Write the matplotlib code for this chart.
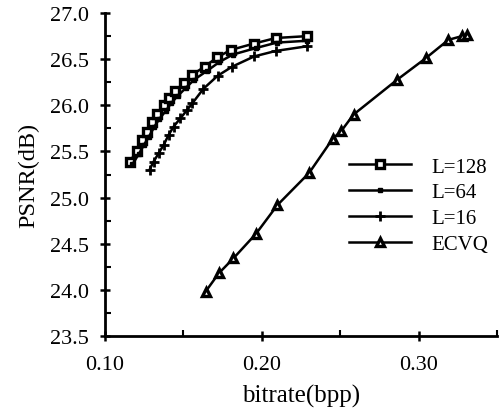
import matplotlib
matplotlib.use("Agg")
import matplotlib.pyplot as plt
from matplotlib.ticker import MultipleLocator

plt.rcParams['font.family'] = ['Liberation Serif', 'DejaVu Serif']

# L=128
l128_x = [0.1160, 0.1203, 0.1235, 0.1267, 0.1299, 0.1331, 0.1374, 0.1406, 0.1449,
          0.1502, 0.1556, 0.1635, 0.1716, 0.1801, 0.1951, 0.2090, 0.2288]
l128_y = [25.39, 25.51, 25.62, 25.71, 25.82, 25.91, 26.00, 26.08, 26.16,
          26.24, 26.33, 26.42, 26.52, 26.60, 26.67, 26.73, 26.75]

# L=64
l64_x = [0.1175, 0.1215, 0.1248, 0.1280, 0.1312, 0.1345, 0.1388, 0.1420, 0.1463,
         0.1516, 0.1570, 0.1648, 0.1730, 0.1815, 0.1960, 0.2095, 0.2288]
l64_y = [25.36, 25.47, 25.57, 25.66, 25.76, 25.85, 25.94, 26.02, 26.10,
         26.19, 26.28, 26.37, 26.47, 26.55, 26.62, 26.68, 26.70]

# L=16
l16_x = [0.1284, 0.1310, 0.1342, 0.1374, 0.1406, 0.1438, 0.1481, 0.1524, 0.1556,
         0.1628, 0.1718, 0.1812, 0.1951, 0.2090, 0.2288]
l16_y = [25.30, 25.39, 25.48, 25.57, 25.68, 25.77, 25.86, 25.95, 26.02,
         26.18, 26.32, 26.42, 26.53, 26.59, 26.64]

# ECVQ
ecvq_x = [0.1641, 0.1726, 0.1818, 0.1964, 0.2100, 0.2303, 0.2453, 0.2506, 0.2585,
          0.2865, 0.3045, 0.3190, 0.3276, 0.3308]
ecvq_y = [23.98, 24.18, 24.34, 24.61, 24.92, 25.27, 25.64, 25.72, 25.90,
          26.28, 26.51, 26.71, 26.75, 26.76]

fig = plt.figure(figsize=(4.99, 4.14), dpi=100)
ax = fig.add_axes([0.2104, 0.186, 0.7856, 0.780])

ax.plot(l128_x, l128_y, color='black', linewidth=1.8, marker='s', markersize=6,
        markerfacecolor='white', markeredgecolor='black', markeredgewidth=2.4, label='L=128')
ax.plot(l64_x, l64_y, color='black', linewidth=1.8, marker='s', markersize=3,
        markerfacecolor='black', markeredgecolor='black', label='L=64')
ax.plot(l16_x, l16_y, color='black', linewidth=1.8, marker='+', markersize=7,
        markeredgewidth=2, label='L=16')
ax.plot(ecvq_x, ecvq_y, color='black', linewidth=1.8, marker='^', markersize=6,
        markerfacecolor='white', markeredgecolor='black', markeredgewidth=2.4, label='ECVQ')

ax.set_xlim(0.10, 0.35)
ax.set_ylim(23.5, 27.0)
ax.xaxis.set_major_locator(MultipleLocator(0.10))
ax.xaxis.set_minor_locator(MultipleLocator(0.05))
ax.yaxis.set_major_locator(MultipleLocator(0.5))
ax.yaxis.set_minor_locator(MultipleLocator(0.25))
ax.xaxis.set_major_formatter(plt.FormatStrFormatter('%.2f'))
ax.yaxis.set_major_formatter(plt.FormatStrFormatter('%.1f'))

ax.spines['top'].set_visible(False)
ax.spines['right'].set_visible(False)
ax.spines['left'].set_linewidth(2)
ax.spines['bottom'].set_linewidth(2)
ax.tick_params(which='major', direction='inout', length=7, width=1.8, labelsize=16)
ax.tick_params(which='minor', direction='in', length=4, width=1.5)
ax.tick_params(axis='x', which='major', pad=10)
ax.tick_params(axis='y', which='major', pad=8)

ax.set_xlabel('bitrate(bpp)', fontsize=18, labelpad=7)
ax.set_ylabel('PSNR(dB)', fontsize=17.5, labelpad=8)

ax.legend(loc='upper left', bbox_to_anchor=(0.60, 0.58), frameon=False, fontsize=15,
          handlelength=3.0, handletextpad=1.0, labelspacing=0.3, borderaxespad=0)

fig.savefig('out.png', dpi=100)
